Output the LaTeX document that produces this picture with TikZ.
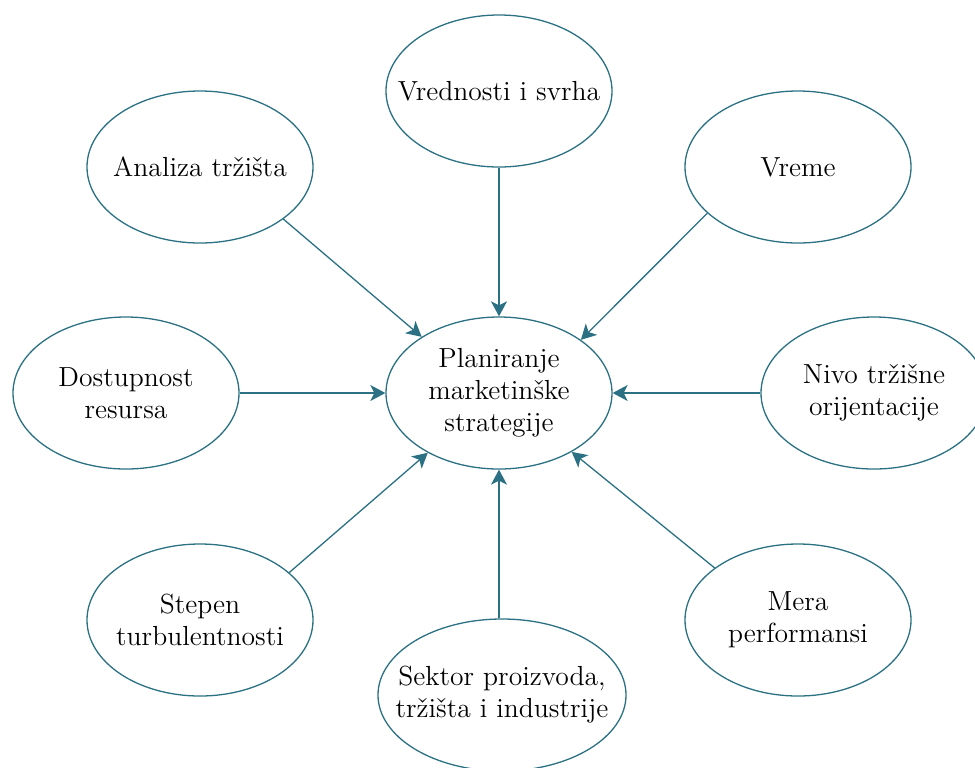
\documentclass[tikz,border=0pt]{standalone}
\usetikzlibrary{shapes.geometric, arrows.meta}
\definecolor{teal}{HTML}{2B7183}

\begin{document}
\begin{tikzpicture}[x=0.5pt, y=-0.5pt,
        e/.style={ellipse, draw=teal, line width=0.65pt, minimum width=113pt, minimum height=76pt, inner xsep=-20pt, inner ysep=-6pt, align=center, font=\fontsize{13.8}{16}\selectfont},
        a/.style={-{Stealth[length=7.5pt, width=8pt, inset=2pt]}, line width=0.65pt, color=teal}]
      \clip (0,0) rectangle (975,767);
      \node[e] (c) at (499,393) {Planiranje\\marketinške\\strategije};
      \node[e] (vs) at (499,91) {Vrednosti i svrha};
      \node[e] (at) at (200,167) {Analiza tržišta};
      \node[e] (vr) at (798,167) {Vreme};
      \node[e] (dr) at (126,393) {Dostupnost\\resursa};
      \node[e] (no) at (874,393) {Nivo tržišne\\orijentacije};
      \node[e] (st) at (200,620) {Stepen\\turbulentnosti};
      \node[e, minimum width=124pt] (sp) at (502,695) {Sektor proizvoda,\\tržišta i industrije};
      \node[e] (mp) at (798,620) {Mera\\performansi};
      \draw[a] (vs.south) -- (c.north);
      \draw[a] (at.-32) -- (c.144);
      \draw[a] (vr.207) -- (c.33);
      \draw[a] (dr.east) -- (c.west);
      \draw[a] (no.west) -- (c.east);
      \draw[a] (st.28) -- (c.220);
      \draw[a] (c.south |- sp.north) -- (c.south);
      \draw[a] (mp.148) -- (c.-39);
    \end{tikzpicture}
\end{document}
